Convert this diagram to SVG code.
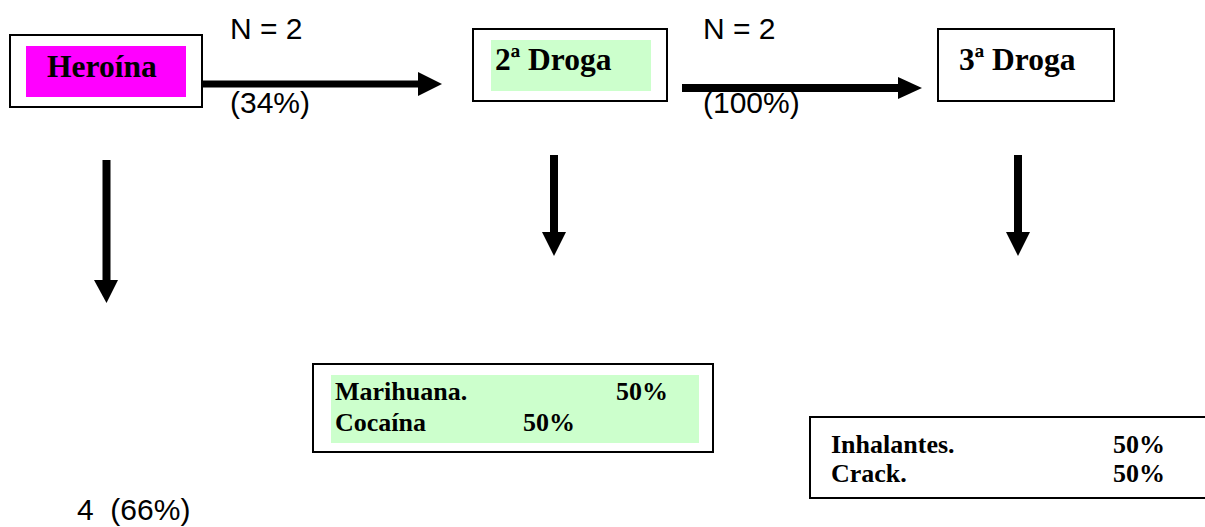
<svg xmlns="http://www.w3.org/2000/svg" width="1205" height="527" viewBox="0 0 1205 527">
<style>
.box{fill:#ffffff;stroke:#000000;stroke-width:2}
.t{font-family:"Liberation Serif",serif;font-weight:bold;font-size:31.5px;fill:#000}
.l{font-family:"Liberation Serif",serif;font-weight:bold;font-size:26px;fill:#000}
.a{font-family:"Liberation Sans",sans-serif;font-size:30px;fill:#000}
.sh{stroke:#000;fill:none}
</style>
<rect width="1205" height="527" fill="#ffffff"/>
<g id="heroina">
<rect class="box" x="10" y="35" width="192" height="72"/>
<rect x="26" y="46" width="160" height="51" fill="#ff00ff"/>
<text class="t" x="47" y="77">Heroína</text>
</g>
<g id="droga2">
<rect class="box" x="473" y="29" width="194" height="72"/>
<rect x="491" y="40" width="160" height="51" fill="#ccffcc"/>
<text class="t" x="495" y="70">2ª Droga</text>
</g>
<g id="droga3">
<rect class="box" x="938" y="29" width="176" height="72"/>
<text class="t" x="959" y="70">3ª Droga</text>
</g>
<g id="lista2">
<rect class="box" x="313" y="364" width="400" height="88"/>
<rect x="331" y="375" width="368" height="68" fill="#ccffcc"/>
<text class="l" x="335" y="400">Marihuana.</text>
<text class="l" x="616" y="400">50%</text>
<text class="l" x="335" y="431">Cocaína</text>
<text class="l" x="523" y="431">50%</text>
</g>
<g id="lista3">
<rect class="box" x="810" y="417" width="410" height="81"/>
<text class="l" x="831" y="453">Inhalantes.</text>
<text class="l" x="1113" y="453">50%</text>
<text class="l" x="831" y="482">Crack.</text>
<text class="l" x="1113" y="482">50%</text>
</g>
<g id="labels">
<text class="a" x="230" y="39">N = 2</text>
<text class="a" x="230" y="113">(34%)</text>
<text class="a" x="703" y="39">N = 2</text>
<text class="a" x="703" y="113">(100%)</text>
<text class="a" x="77" y="520" xml:space="preserve">4  (66%)</text>
</g>
<g id="connectors">
<line class="sh" x1="202" y1="84" x2="420" y2="84" stroke-width="7"/>
<polygon points="418,72 442,84 418,96" fill="#000"/>
<line class="sh" x1="682" y1="88" x2="900" y2="88" stroke-width="8"/>
<polygon points="898,77 922,88 898,99" fill="#000"/>
<line class="sh" x1="106.5" y1="160" x2="106.5" y2="282" stroke-width="8"/>
<polygon points="94,280 118,280 106.5,303" fill="#000"/>
<line class="sh" x1="554" y1="155" x2="554" y2="234" stroke-width="8"/>
<polygon points="542,232 566,232 554,256" fill="#000"/>
<line class="sh" x1="1018" y1="155" x2="1018" y2="234" stroke-width="8"/>
<polygon points="1006,232 1030,232 1018,256" fill="#000"/>
</g>
</svg>
